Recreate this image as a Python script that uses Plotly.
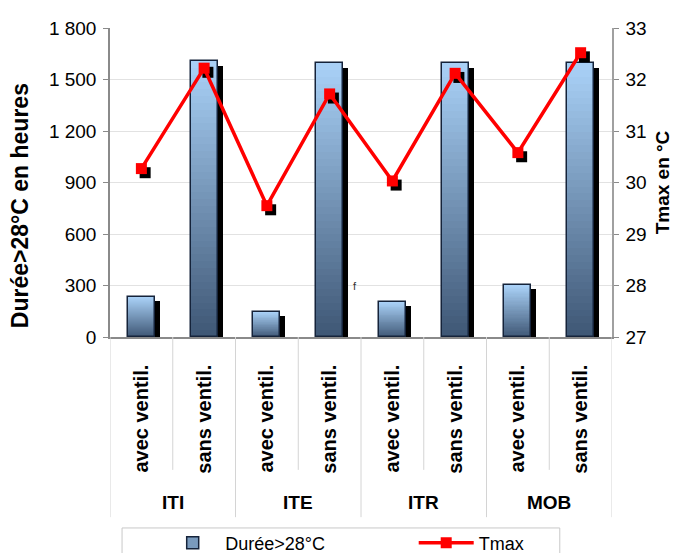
import plotly.graph_objects as go
from plotly.subplots import make_subplots

# --- data -------------------------------------------------------------
groups = ["ITI", "ITE", "ITR", "MOB"]
variants = ["avec ventil.", "sans ventil."]
duree = [235, 1605, 148, 1594, 206, 1594, 304, 1594]          # heures > 28 °C
tmax = [30.27, 32.22, 29.55, 31.72, 30.03, 32.12, 30.58, 32.52]  # °C
left_ticks = [0, 300, 600, 900, 1200, 1500, 1800]
left_ticktext = ["0", "300", "600", "900", "1 200", "1 500", "1 800"]
right_ticks = [27, 28, 29, 30, 31, 32, 33]

FONT = "Liberation Sans, Arial, sans-serif"
n_cat = len(groups) * len(variants)
xpos = list(range(n_cat))
xlabels = [v for g in groups for v in variants]

BAR_W = 0.43
N_SEG = 40
TOP_RGB = (170, 210, 248)
BOT_RGB = (62, 86, 116)


def mix(t):
    r, g, b = (round(TOP_RGB[i] + (BOT_RGB[i] - TOP_RGB[i]) * t) for i in range(3))
    return f"rgb({r},{g},{b})"


fig = make_subplots(specs=[[{"secondary_y": True}]])

# drop shadow behind each bar
fig.add_trace(go.Bar(
    x=[x + 0.08 for x in xpos], y=[v - 25 for v in duree], width=BAR_W,
    marker=dict(color="black", line=dict(width=0)),
    showlegend=False, hoverinfo="skip"), secondary_y=False)

# vertical gradient: each bar is split into thin slices, light at top, dark at bottom
for k in range(N_SEG):
    t = 1 - (k + 0.5) / N_SEG
    fig.add_trace(go.Bar(
        x=xpos, y=[v / N_SEG for v in duree], base=[v * k / N_SEG for v in duree],
        width=BAR_W, marker=dict(color=mix(t), line=dict(width=0)),
        showlegend=False, hoverinfo="skip"), secondary_y=False)

# outline of each bar
fig.add_trace(go.Bar(
    x=xpos, y=duree, width=BAR_W, name="Durée>28°C",
    marker=dict(color="rgba(0,0,0,0)", line=dict(color="#15233a", width=1.5)),
    showlegend=False), secondary_y=False)
# legend entry for the bars
fig.add_trace(go.Bar(
    x=[None], y=[None], name="Durée>28°C", legend="legend",
    marker=dict(color=mix(0.45), line=dict(color="#15233a", width=1.5))),
    secondary_y=False)

# Tmax line with shadowed square markers
fig.add_trace(go.Scatter(
    x=[x + 0.06 for x in xpos], y=[t - 0.08 for t in tmax], mode="markers",
    marker=dict(symbol="square", size=11, color="black"),
    showlegend=False, hoverinfo="skip"), secondary_y=True)
fig.add_trace(go.Scatter(
    x=xpos, y=tmax, mode="lines+markers", name="Tmax", legend="legend2",
    line=dict(color="#ff0000", width=3.5),
    marker=dict(symbol="square", size=11, color="#ff0000")), secondary_y=True)

legend_common = dict(orientation="h", yanchor="middle", y=-0.667, xanchor="left",
                     bgcolor="rgba(0,0,0,0)", borderwidth=0,
                     font=dict(size=18), itemwidth=55)

fig.update_layout(
    width=679, height=553,
    margin=dict(l=110, r=67, t=28, b=216, autoexpand=False),
    paper_bgcolor="white", plot_bgcolor="white",
    barmode="overlay", bargap=0,
    font=dict(family=FONT, size=18, color="black"),
    showlegend=True,
    legend=dict(x=0.1, **legend_common),
    legend2=dict(x=0.605, **legend_common),
)

fig.update_xaxes(
    domain=[0, 1],
    range=[-0.5, n_cat - 0.5], tickmode="array", tickvals=xpos,
    ticktext=[f"<b>{t}</b>" for t in xlabels], tickangle=-90,
    tickfont=dict(size=20), ticks="", ticklabelstandoff=18, automargin=False,
    showline=True, linecolor="#8a8a8a", linewidth=1.5,
    showgrid=False, zeroline=False)

fig.update_yaxes(
    range=[0, 1800], tickmode="array", tickvals=left_ticks, ticktext=left_ticktext,
    tickfont=dict(size=19), ticks="outside", ticklen=5, tickcolor="#8a8a8a",
    ticklabelstandoff=3, automargin=False,
    showline=True, linecolor="#8a8a8a", linewidth=1.5,
    gridcolor="#e2e2e2", zeroline=False,
    secondary_y=False)

fig.update_yaxes(
    range=[27, 33], tickmode="array", tickvals=right_ticks,
    tickfont=dict(size=19), ticks="outside", ticklen=5, tickcolor="#8a8a8a",
    ticklabelstandoff=3, automargin=False,
    showline=True, linecolor="#a0a0a0", linewidth=1.5,
    showgrid=False, zeroline=False,
    title=dict(text="<b>Tmax en °C</b>", font=dict(size=19), standoff=10),
    secondary_y=True)

# left axis title, set slightly below the plot's vertical centre
fig.add_annotation(text="<b>Durée>28°C en heures</b>", xref="paper", yref="paper",
                   x=-0.179, y=0.424, xanchor="center", yanchor="middle",
                   textangle=-90, showarrow=False, font=dict(size=23))

# category dividers below the axis
for i in range(len(groups) + 1):
    fig.add_shape(type="line", xref="x", yref="paper",
                  x0=2 * i - 0.5, x1=2 * i - 0.5, y0=0, y1=-0.583,
                  line=dict(color="#d4d4d4", width=1))
for i in range(len(groups)):
    fig.add_shape(type="line", xref="x", yref="paper",
                  x0=2 * i + 0.5, x1=2 * i + 0.5, y0=0, y1=-0.43,
                  line=dict(color="#d4d4d4", width=1))
    fig.add_annotation(text=f"<b>{groups[i]}</b>", xref="x", yref="paper",
                       x=2 * i + 0.5, y=-0.575, showarrow=False,
                       font=dict(size=19))

# frame around the two legend entries
fig.add_shape(type="rect", xref="paper", yref="paper",
              x0=0.024, x1=0.896, y0=-0.618, y1=-0.76,
              line=dict(color="#c8c8c8", width=1), fillcolor="rgba(0,0,0,0)")

fig.add_annotation(text="f", xref="paper", yref="paper", x=0.488, y=0.14,
                   showarrow=False, font=dict(size=11, color="#333333"))

fig.write_html("out.html")
